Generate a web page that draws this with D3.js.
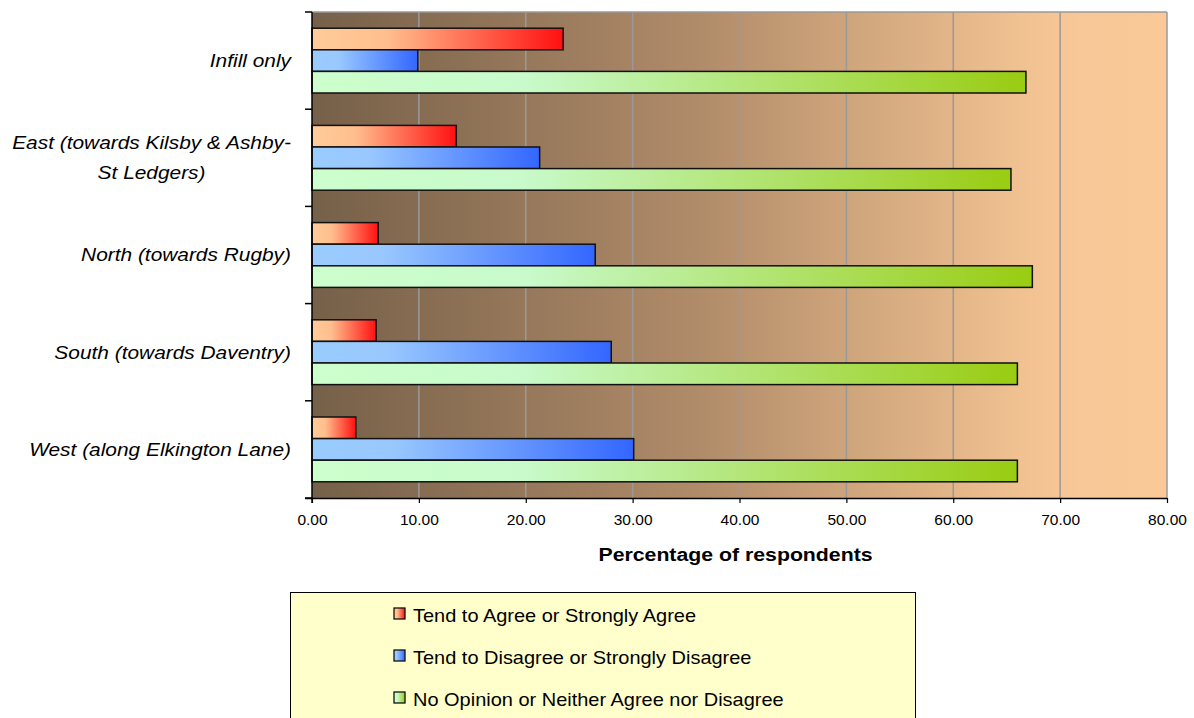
<!DOCTYPE html>
<html>
<head>
<meta charset="utf-8">
<script src="https://cdn.jsdelivr.net/npm/d3@7"></script>
<style>
  html, body { margin: 0; padding: 0; background: #ffffff; }
  svg { display: block; font-family: "Liberation Sans", Arial, sans-serif; }
</style>
</head>
<body>
<svg id="chart" width="1194" height="718"></svg>
<script>
// ---- data ----
const categories = [
  "Infill only",
  "East (towards Kilsby & Ashby-\nSt Ledgers)",
  "North (towards Rugby)",
  "South (towards Daventry)",
  "West (along Elkington Lane)"
];
const seriesNames = [
  "Tend to Agree or Strongly Agree",
  "Tend to Disagree or Strongly Disagree",
  "No Opinion or Neither Agree nor Disagree"
];
const agreeValues    = [23.5, 13.5, 6.2, 6.0, 4.1];
const disagreeValues = [9.9, 21.3, 26.5, 28.0, 30.1];
const noOpinionValues = [66.8, 65.4, 67.4, 66.0, 66.0];
const xTicks = [0, 10, 20, 30, 40, 50, 60, 70, 80];
const xTitle = "Percentage of respondents";

const seriesValues = [agreeValues, disagreeValues, noOpinionValues];
const seriesKeys = ["agree", "disagree", "noop"];
const gradStops = {
  agree:    [[0, "#ffcc99"], [0.3, "#ffbe8e"], [1, "#ff1010"]],
  disagree: [[0, "#99ccff"], [0.25, "#99c8ff"], [1, "#3366ff"]],
  noop:     [[0, "#ccffcc"], [0.3, "#c8facb"], [1, "#99cc11"]]
};

// ---- layout ----
const svg = d3.select("#chart");
const plot = { left: 312, right: 1167, top: 12, bottom: 498 };

const x = d3.scaleLinear().domain([0, 80]).range([plot.left, plot.right]);
const y = d3.scaleBand().domain(categories).range([plot.top, plot.bottom]).padding(0);
const ySub = d3.scaleBand().domain(seriesKeys).range([0, y.bandwidth()])
  .paddingInner(0).paddingOuter(0.75);

const defs = svg.append("defs");
const bg = defs.append("linearGradient").attr("id", "bgGrad")
  .attr("x1", 0).attr("x2", 1).attr("y1", 0).attr("y2", 0);
[[0, "#766049"], [0.45, "#b08b69"], [0.82, "#efc090"], [0.9, "#f9c898"], [1, "#fac997"]]
  .forEach(s => bg.append("stop").attr("offset", s[0]).attr("stop-color", s[1]));
seriesKeys.forEach(k => {
  const g = defs.append("linearGradient").attr("id", "g_" + k)
    .attr("x1", 0).attr("x2", 1).attr("y1", 0).attr("y2", 0);
  gradStops[k].forEach(s => g.append("stop").attr("offset", s[0]).attr("stop-color", s[1]));
});

// plot background
svg.append("rect")
  .attr("x", plot.left).attr("y", plot.top)
  .attr("width", plot.right - plot.left).attr("height", plot.bottom - plot.top)
  .attr("fill", "url(#bgGrad)");

// gridlines
svg.append("g").selectAll("line").data(xTicks.filter(d => d > 0))
  .join("line")
  .attr("x1", d => x(d)).attr("x2", d => x(d))
  .attr("y1", plot.top).attr("y2", plot.bottom)
  .attr("stroke", "#9a9a9a").attr("stroke-width", 1.5);
svg.append("line")
  .attr("x1", plot.left).attr("x2", plot.right)
  .attr("y1", plot.top).attr("y2", plot.top)
  .attr("stroke", "#9a9a9a").attr("stroke-width", 1.5);

// bars
const groups = svg.append("g").selectAll("g").data(categories).join("g")
  .attr("transform", d => `translate(0,${y(d)})`);
groups.selectAll("rect")
  .data((c, i) => seriesKeys.map((k, j) => ({ key: k, value: seriesValues[j][i] })))
  .join("rect")
  .attr("x", x(0))
  .attr("y", d => ySub(d.key))
  .attr("width", d => x(d.value) - x(0))
  .attr("height", ySub.bandwidth())
  .attr("fill", d => `url(#g_${d.key})`)
  .attr("stroke", "#111")
  .attr("stroke-width", 1.5);

// x axis
const xAxis = d3.axisBottom(x).tickValues(xTicks).tickFormat(d3.format(".2f"))
  .tickSize(5).tickSizeOuter(0);
const gx = svg.append("g").attr("transform", `translate(0,${plot.bottom})`).call(xAxis);
gx.select(".domain").attr("stroke", "#000").attr("stroke-width", 1.5)
  .attr("d", `M${plot.left - 7},0.5H${plot.right}`);
gx.selectAll(".tick line").attr("stroke", "#000").attr("stroke-width", 1.2);
gx.selectAll(".tick text").attr("font-size", 15.5).attr("fill", "#000")
  .attr("y", 16).attr("dy", "0.71em").attr("font-family", "Liberation Sans, Arial, sans-serif");

// y axis
const yTickPos = categories.map(c => y(c)).concat([plot.bottom]);
svg.append("line")
  .attr("x1", plot.left).attr("x2", plot.left)
  .attr("y1", plot.top).attr("y2", plot.bottom + 5)
  .attr("stroke", "#000").attr("stroke-width", 1.5);
svg.append("g").selectAll("line").data(yTickPos).join("line")
  .attr("x1", plot.left - 7).attr("x2", plot.left)
  .attr("y1", d => d).attr("y2", d => d)
  .attr("stroke", "#000").attr("stroke-width", 1.5);

// category labels (horizontally stretched like the original rendering)
const labelRight = 291;
const labelStretch = 1.16;
const labG = svg.append("g");
categories.forEach(c => {
  const lines = c.split("\n");
  const cy = y(c) + y.bandwidth() / 2;
  const lh = 30;
  const t = labG.append("text")
    .attr("font-size", 18).attr("font-style", "italic").attr("fill", "#000");
  lines.forEach((ln, i) => {
    t.append("tspan").attr("x", 0)
      .attr("y", (i - (lines.length - 1) / 2) * lh)
      .attr("dy", "0.35em").text(ln);
  });
  if (lines.length === 1) {
    t.attr("text-anchor", "end")
      .attr("transform", `translate(${labelRight},${cy}) scale(${labelStretch},1)`);
  } else {
    let maxW = 0;
    t.selectAll("tspan").each(function () { maxW = Math.max(maxW, this.getComputedTextLength()); });
    t.attr("text-anchor", "middle")
      .attr("transform", `translate(${labelRight - maxW * labelStretch / 2},${cy}) scale(${labelStretch},1)`);
  }
});

// x title
svg.append("text")
  .attr("transform", `translate(${(plot.left + plot.right) / 2 - 4},561) scale(1.12,1)`)
  .attr("text-anchor", "middle").attr("font-size", 19).attr("font-weight", "bold")
  .attr("fill", "#000").text(xTitle);

// legend
svg.append("rect")
  .attr("x", 290.5).attr("y", 592.5).attr("width", 625).attr("height", 140)
  .attr("fill", "#ffffcc").attr("stroke", "#000").attr("stroke-width", 1);
const leg = svg.append("g").selectAll("g").data(seriesKeys).join("g")
  .attr("transform", (d, i) => `translate(394,${608 + i * 42})`);
leg.append("rect").attr("width", 11).attr("height", 11)
  .attr("fill", d => `url(#g_${d})`).attr("stroke", "#111").attr("stroke-width", 1.3);
leg.append("text")
  .attr("transform", "translate(19,13.5) scale(1.11,1)")
  .attr("font-size", 18).attr("fill", "#000")
  .text((d, i) => seriesNames[i]);
</script>
</body>
</html>
